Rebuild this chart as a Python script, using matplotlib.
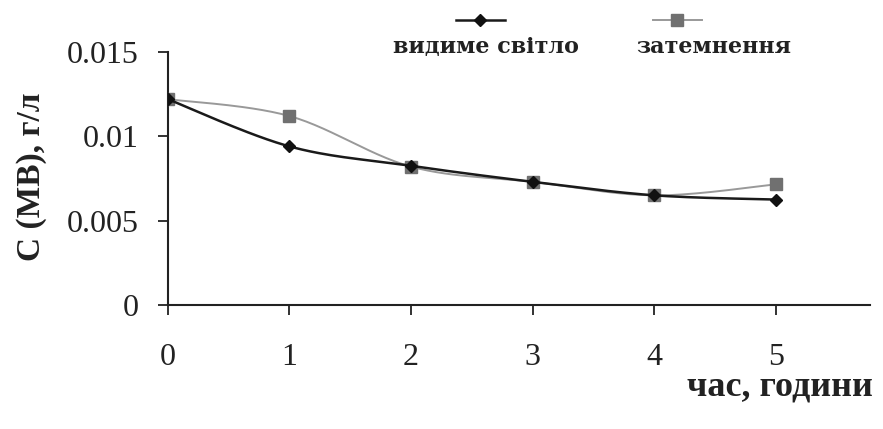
import numpy as np
import matplotlib.pyplot as plt
from matplotlib.lines import Line2D

# data
hours = [0, 1, 2, 3, 4, 5]
visible = [0.0122, 0.0094, 0.00825, 0.0073, 0.0065, 0.00625]
dark = [0.0122, 0.0112, 0.0082, 0.0073, 0.0065, 0.00715]
labels = ["видиме світло", "затемнення"]

plt.rcParams['font.family'] = ['Liberation Serif', 'DejaVu Serif']


def smooth(x, y, n=30):
    # Excel-like smoothed line (Catmull-Rom converted to Bezier)
    x = np.asarray(x, float)
    y = np.asarray(y, float)
    px = np.concatenate([[x[0]], x, [x[-1]]])
    py = np.concatenate([[y[0]], y, [y[-1]]])
    xs, ys = [], []
    t = np.linspace(0, 1, n)
    for i in range(1, len(px) - 2):
        p0 = np.array([px[i], py[i]])
        p3 = np.array([px[i + 1], py[i + 1]])
        c1 = p0 + (np.array([px[i + 1], py[i + 1]]) - np.array([px[i - 1], py[i - 1]])) / 6
        c2 = p3 - (np.array([px[i + 2], py[i + 2]]) - np.array([px[i], py[i]])) / 6
        b = ((1 - t) ** 3)[:, None] * p0 + (3 * (1 - t) ** 2 * t)[:, None] * c1 \
            + (3 * (1 - t) * t ** 2)[:, None] * c2 + (t ** 3)[:, None] * p3
        xs.extend(b[:, 0])
        ys.extend(b[:, 1])
    return xs, ys


fig = plt.figure(figsize=(8.83, 4.29), dpi=100)
ax = fig.add_axes([0.190, 0.289, 0.795, 0.590])

sx, sy = smooth(hours, dark)
ax.plot(sx, sy, color='#999999', lw=1.4, zorder=2)
ax.plot(hours, dark, ls='none', marker='s', ms=8, color='#707070', zorder=3)

sx, sy = smooth(hours, visible)
ax.plot(sx, sy, color='#1a1a1a', lw=1.8, zorder=4)
ax.plot(hours, visible, ls='none', marker='D', ms=6, color='#111111', zorder=5)

ax.set_xlim(0, 5.77)
ax.set_ylim(0, 0.015)
ax.set_xticks(hours)
ax.set_yticks([0, 0.005, 0.01, 0.015])
ax.set_yticklabels(['0', '0.005', '0.01', '0.015'])
ax.tick_params(labelsize=23, colors='#222222', length=7, width=1.3)
ax.tick_params(axis='y', pad=14)
ax.tick_params(axis='x', pad=20)
for s in ['top', 'right']:
    ax.spines[s].set_visible(False)
for s in ['left', 'bottom']:
    ax.spines[s].set_linewidth(1.5)
    ax.spines[s].set_color('#222222')

fig.text(0.036, 0.588, 'C (MB), г/л', rotation=90, ha='center', va='center',
         fontsize=24, fontweight='bold', color='#222222')
fig.text(0.989, 0.098, 'час, години', ha='right', va='center',
         fontsize=26, fontweight='bold', color='#222222')

# legend: handles above the labels
leg = [(0.544, 0.550, '#111111', 'D', 6, '#1a1a1a', 1.8),
       (0.767, 0.808, '#707070', 's', 8, '#999999', 1.4)]
for (xc, xt, mc, mk, ms, lc, lw), lab in zip(leg, labels):
    fig.add_artist(Line2D([xc - 0.028, xc + 0.028], [0.953, 0.953], color=lc, lw=lw,
                          transform=fig.transFigure))
    fig.add_artist(Line2D([xc], [0.953], ls='none', marker=mk, ms=ms, color=mc,
                          transform=fig.transFigure))
    fig.text(xt, 0.890, lab, ha='center', va='center', fontsize=16,
             fontweight='bold', family=['DejaVu Serif'], color='#222222')

fig.savefig('out.png', dpi=100)
